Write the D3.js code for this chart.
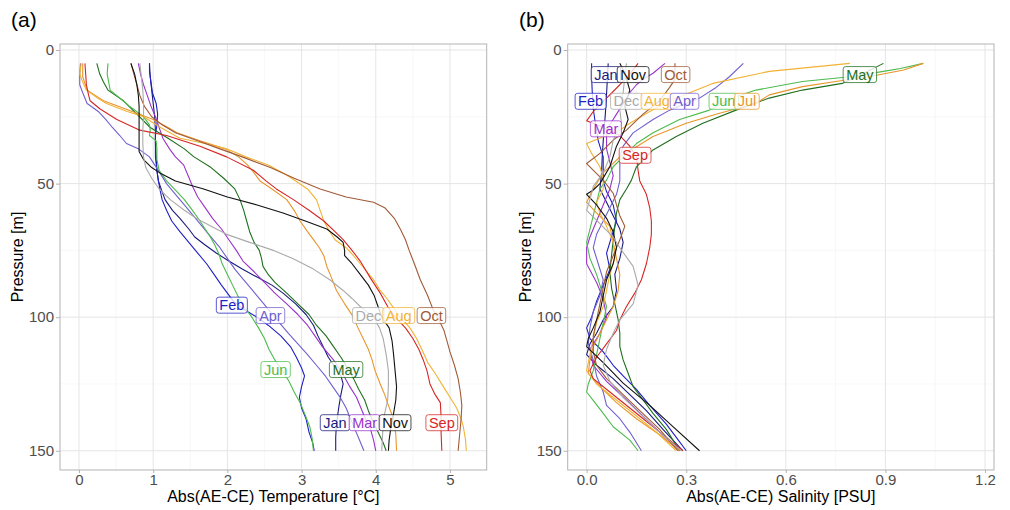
<!DOCTYPE html>
<html><head><meta charset="utf-8">
<script src="https://cdn.jsdelivr.net/npm/d3@7"></script>
<style>body{margin:0;background:#fff}svg{display:block}</style>
</head><body>
<svg id="c" width="1010" height="510"></svg>
<script>
// ---------- DATA ----------
const months = ["Jan","Feb","Mar","Apr","May","Jun","Jul","Aug","Sep","Oct","Nov","Dec"];
const monthColors = ["#1a1a7e","#1f1fc4","#9933cc","#7060d0","#1f6f1f","#4cbb4c","#e8952a","#f2b233","#d62626","#a05a36","#111111","#aaaaaa"];

const xTicksA = [0,1,2,3,4,5];
const xTicksB = [0,0.3,0.6,0.9,1.2];
const yTicks = [0,50,100,150];

// Temperature profiles: [pressure, |AE-CE| temperature]
const tJan = [[5,0.95],[10,0.96],[15,0.98],[20,1.0],[25,1.02],[30,1.03],[35,1.03],[40,1.04],[45,1.05],[49,1.07],[53,1.12],[56,1.16],[60,1.26],[63,1.36],[67,1.48],[70,1.56],[73,1.7],[76,1.85],[79,2.02],[82,2.2],[85,2.4],[88,2.6],[91,2.75],[95,2.92],[99,3.06],[103,3.16],[107,3.22],[111,3.29],[115,3.36],[119,3.46],[122,3.53],[125,3.56],[129,3.53],[134,3.5],[140,3.47],[145,3.46],[150,3.46]];
const tFeb = [[5,0.95],[8,0.95],[12,0.97],[16,0.99],[20,1.04],[24,1.06],[28,1.05],[32,1.03],[36,1.03],[40,1.03],[45,1.05],[49,1.07],[52,1.09],[56,1.12],[60,1.18],[64,1.25],[68,1.36],[72,1.48],[76,1.6],[80,1.72],[84,1.82],[88,1.92],[91,2.0],[94,2.08],[97,2.22],[100,2.4],[103,2.55],[107,2.72],[111,2.85],[115,2.93],[119,3.0],[122,3.04],[126,3.0],[130,2.97],[134,3.0],[138,3.06],[143,3.1],[147,3.15],[150,3.17]];
const tMar = [[5,0.8],[9,0.83],[13,0.87],[17,0.92],[21,0.97],[25,1.03],[29,1.08],[33,1.13],[37,1.22],[40,1.3],[43,1.41],[47,1.47],[51,1.53],[55,1.6],[59,1.7],[63,1.8],[67,1.92],[71,2.02],[75,2.12],[79,2.21],[83,2.36],[87,2.5],[91,2.64],[95,2.8],[99,2.95],[103,3.08],[107,3.18],[111,3.28],[116,3.43],[121,3.55],[126,3.65],[130,3.74],[134,3.8],[138,3.86],[142,3.93],[146,3.97],[150,4.0]];
const tApr = [[5,0.02],[9,0.01],[13,0.01],[16,0.05],[20,0.11],[23,0.26],[26,0.36],[29,0.45],[32,0.55],[35,0.64],[37,0.8],[40,0.95],[43,1.02],[46,1.09],[50,1.18],[54,1.3],[58,1.42],[62,1.54],[66,1.66],[70,1.78],[74,1.9],[78,2.0],[82,2.1],[86,2.22],[90,2.34],[94,2.46],[98,2.58],[102,2.7],[106,2.82],[110,2.95],[114,3.08],[118,3.2],[122,3.32],[126,3.42],[130,3.52],[134,3.6],[138,3.66],[142,3.72],[146,3.78],[150,3.84]];
const tMay = [[5,0.24],[9,0.28],[12,0.33],[15,0.39],[19,0.6],[24,0.78],[29,0.96],[33,1.2],[37,1.42],[40,1.55],[44,1.78],[48,1.95],[52,2.1],[56,2.17],[60,2.22],[64,2.26],[68,2.3],[72,2.36],[75,2.43],[78,2.46],[81,2.48],[84,2.55],[87,2.64],[91,2.8],[95,2.95],[99,3.1],[103,3.2],[107,3.33],[111,3.43],[115,3.53],[119,3.62],[123,3.7],[127,3.77],[131,3.85],[135,3.9],[139,3.96],[143,4.03],[147,4.1],[150,4.14]];
const tJun = [[5,0.39],[9,0.38],[12,0.4],[15,0.42],[18,0.55],[21,0.68],[25,0.87],[28,0.95],[30,0.96],[32,0.95],[34,1.04],[37,1.05],[41,1.05],[45,1.08],[49,1.18],[53,1.32],[56,1.42],[60,1.53],[64,1.63],[67,1.7],[70,1.77],[73,1.83],[76,1.88],[80,1.93],[84,2.0],[88,2.07],[92,2.14],[96,2.22],[100,2.33],[104,2.42],[108,2.5],[112,2.56],[116,2.64],[120,2.74],[124,2.83],[128,2.9],[132,2.98],[136,3.04],[141,3.11],[145,3.14],[150,3.16]];
const tJul = [[5,0.05],[10,0.05],[15,0.11],[19,0.33],[22,0.62],[26,1.0],[29,1.2],[31,1.32],[34,1.63],[37,1.97],[40,2.15],[43,2.27],[46,2.36],[49,2.44],[52,2.6],[56,2.8],[60,2.9],[64,2.98],[68,3.08],[71,3.16],[74,3.24],[77,3.3],[81,3.34],[85,3.4],[90,3.47],[95,3.58],[100,3.7],[104,3.76],[108,3.83],[112,3.9],[116,3.95],[120,3.99],[125,4.06],[129,4.12],[133,4.17],[138,4.24],[144,4.27],[150,4.28]];
const tAug = [[5,0.03],[9,0.01],[12,0.05],[15,0.1],[18,0.25],[20,0.37],[23,0.65],[25,0.87],[29,1.1],[33,1.36],[35,1.7],[37,1.99],[40,2.25],[43,2.55],[46,2.75],[49,2.92],[52,3.08],[56,3.2],[60,3.25],[64,3.3],[68,3.38],[71,3.45],[74,3.6],[77,3.7],[80,3.79],[83,3.88],[86,3.97],[90,4.06],[93,4.15],[97,4.25],[100,4.33],[104,4.46],[108,4.55],[112,4.62],[117,4.7],[121,4.8],[126,4.91],[130,5.0],[134,5.09],[138,5.15],[141,5.18],[146,5.21],[150,5.22]];
const tSep = [[5,0.08],[9,0.09],[13,0.1],[17,0.13],[19,0.15],[22,0.28],[26,0.51],[30,0.82],[32,1.18],[34,1.4],[36,1.63],[40,1.99],[45,2.35],[49,2.52],[52,2.66],[56,2.89],[60,3.1],[64,3.3],[68,3.45],[71,3.56],[75,3.68],[79,3.79],[85,3.92],[91,4.06],[96,4.16],[100,4.26],[104,4.4],[108,4.5],[112,4.58],[116,4.64],[120,4.69],[125,4.73],[129,4.8],[132,4.87],[137,4.88],[143,4.88],[150,4.89]];
const tOct = [[5,0.7],[9,0.74],[13,0.78],[17,0.82],[21,0.88],[25,0.98],[28,1.12],[31,1.3],[34,1.6],[37,1.9],[40,2.2],[44,2.58],[48,2.9],[52,3.25],[55,3.6],[57,3.97],[59,4.12],[63,4.25],[67,4.33],[71,4.4],[75,4.45],[80,4.52],[86,4.6],[92,4.7],[97,4.77],[101,4.85],[105,4.92],[109,4.96],[113,5.0],[118,5.06],[123,5.11],[128,5.14],[133,5.16],[138,5.15],[144,5.13],[150,5.11]];
const tNov = [[5,0.7],[9,0.75],[13,0.78],[17,0.8],[21,0.81],[27,0.81],[33,0.81],[38,0.81],[41,0.87],[44,0.98],[46,1.09],[49,1.3],[52,1.68],[55,2.0],[58,2.4],[61,2.75],[64,3.05],[67,3.34],[70,3.48],[72,3.56],[75,3.58],[77,3.58],[80,3.68],[84,3.79],[88,3.9],[92,3.98],[96,4.03],[100,4.08],[104,4.18],[109,4.22],[114,4.24],[120,4.26],[126,4.28],[131,4.27],[136,4.24],[142,4.2],[146,4.18],[150,4.17]];
const tDec = [[5,0.82],[10,0.84],[15,0.86],[20,0.87],[25,0.87],[30,0.86],[35,0.86],[40,0.87],[44,0.9],[48,0.98],[52,1.08],[56,1.23],[60,1.42],[63,1.58],[66,1.78],[69,1.99],[72,2.3],[75,2.62],[78,2.88],[82,3.16],[86,3.38],[90,3.56],[93,3.68],[96,3.79],[100,3.97],[104,4.05],[108,4.1],[114,4.14],[120,4.17],[126,4.17],[131,4.16],[136,4.12],[140,4.1],[145,4.09],[150,4.08]];

// Salinity profiles: [pressure, |AE-CE| salinity]
const sJan = [[5,0.065],[12,0.062],[21,0.058],[28,0.054],[34,0.05],[40,0.047],[46,0.045],[52,0.04],[57,0.06],[62,0.08],[67,0.1],[72,0.11],[78,0.1],[84,0.085],[90,0.09],[96,0.08],[101,0.05],[106,0.03],[110,0.01],[114,0.0],[118,0.03],[123,0.08],[129,0.13],[135,0.18],[142,0.23],[150,0.29]];
const sFeb = [[5,0.015],[10,0.015],[16,0.017],[22,0.02],[28,0.027],[34,0.035],[40,0.05],[45,0.05],[49,0.05],[53,0.06],[58,0.08],[64,0.09],[70,0.075],[76,0.06],[82,0.07],[88,0.05],[94,0.03],[100,0.015],[104,0.0],[108,0.01],[113,0.05],[118,0.08],[122,0.11],[127,0.15],[133,0.19],[140,0.24],[145,0.27],[150,0.3]];
const sMar = [[5,0.236],[8.7,0.2],[11,0.17],[13,0.15],[16,0.13],[20,0.11],[24,0.09],[28,0.07],[32,0.06],[37,0.06],[42,0.07],[47,0.08],[52,0.07],[58,0.05],[64,0.03],[70,0.01],[74,0.0],[80,0.0],[87,0.03],[93,0.05],[100,0.06],[106,0.04],[112,0.01],[118,0.02],[124,0.06],[131,0.12],[137,0.17],[143,0.22],[150,0.28]];
const sApr = [[5,0.472],[10,0.43],[14,0.39],[18,0.34],[22.5,0.25],[26,0.2],[31,0.14],[36,0.11],[40,0.1],[45,0.1],[49,0.1],[54,0.09],[59,0.07],[64,0.05],[69,0.03],[74,0.02],[80,0.035],[86,0.05],[92,0.04],[98,0.02],[104,0.01],[110,0.005],[116,0.02],[122,0.03],[128,0.05],[133,0.06],[138,0.1],[143,0.13],[150,0.165]];
const sMay = [[5,0.894],[6.5,0.87],[9,0.83],[12.5,0.77],[15,0.65],[18,0.55],[22.5,0.45],[27.4,0.35],[32.4,0.27],[37.4,0.2],[43.7,0.15],[48.7,0.135],[52,0.12],[56,0.1],[61,0.09],[66,0.085],[71,0.08],[77,0.075],[83,0.07],[89,0.075],[95,0.085],[101,0.095],[106,0.1],[111,0.1],[116,0.11],[121,0.125],[126,0.14],[131,0.17],[136,0.2],[142,0.24],[150,0.28]];
const sJun = [[5,1.014],[6.9,0.945],[8,0.894],[10,0.793],[11.8,0.65],[15,0.51],[17.5,0.45],[22.5,0.37],[26,0.28],[31,0.2],[35,0.15],[40,0.11],[43.7,0.08],[48.7,0.06],[52,0.04],[57,0.03],[62,0.02],[67,0.01],[72,0.0],[78,0.01],[84,0.03],[90,0.045],[96,0.06],[102,0.05],[108,0.04],[114,0.03],[120,0.02],[125,0.005],[128,0.0],[132,0.025],[136,0.05],[141,0.08],[146,0.13],[150,0.155]];
const sJul = [[5,1.014],[7.5,0.955],[10,0.85],[11.8,0.75],[13.7,0.65],[16.8,0.55],[20,0.51],[23.7,0.4],[27.4,0.3],[32.4,0.2],[36.2,0.15],[40,0.1],[46,0.05],[52,0.02],[57,0.0],[61,0.03],[66,0.07],[72,0.08],[78,0.09],[84,0.1],[90,0.095],[96,0.08],[101,0.06],[106,0.04],[111,0.02],[116,0.01],[121,0.005],[126,0.04],[132,0.09],[138,0.15],[144,0.22],[150,0.28]];
const sAug = [[5,0.793],[8,0.55],[12.5,0.38],[19,0.25],[23,0.19],[27.4,0.13],[30,0.1],[35,0.0],[38.7,0.015],[43.7,0.04],[48,0.05],[52,0.05],[57,0.03],[61,0.04],[66,0.06],[72,0.08],[78,0.085],[84,0.07],[90,0.06],[96,0.05],[102,0.03],[108,0.02],[114,0.01],[120,0.0],[125,0.03],[131,0.09],[137,0.15],[143,0.21],[150,0.27]];
const sSep = [[5,0.155],[9,0.13],[13,0.1],[18,0.06],[23,0.02],[26.5,0.0],[29,0.05],[32,0.1],[36,0.13],[40,0.15],[45,0.155],[49,0.16],[54,0.18],[59,0.19],[64,0.195],[69,0.195],[74,0.19],[80,0.18],[86,0.165],[91,0.145],[96,0.12],[101,0.1],[105,0.09],[110,0.06],[115,0.03],[120,0.01],[123,0.02],[128,0.07],[134,0.13],[140,0.19],[145,0.24],[150,0.29]];
const sOct = [[5,0.266],[9,0.266],[11,0.266],[14,0.25],[19,0.22],[24,0.17],[30,0.12],[33.7,0.08],[38.7,0.04],[42.5,0.0],[48.7,0.05],[53.6,0.08],[58,0.09],[62,0.1],[66,0.115],[71,0.1],[77,0.08],[83,0.06],[89,0.05],[95,0.04],[101,0.03],[107,0.02],[113,0.02],[118,0.03],[123,0.06],[129,0.11],[135,0.16],[142,0.22],[150,0.275]];
const sNov = [[5,0.1],[8.7,0.115],[15,0.13],[21,0.115],[26,0.125],[31,0.11],[36,0.09],[43.7,0.07],[50,0.04],[52.4,0.02],[54,0.0],[58,0.03],[63,0.06],[68,0.08],[74,0.09],[80,0.08],[86,0.06],[92,0.05],[98,0.04],[104,0.02],[108,0.005],[111,0.0],[117,0.05],[124.7,0.11],[133,0.19],[141,0.26],[150,0.34]];
const sDec = [[5,0.12],[10,0.115],[16,0.11],[22.5,0.1],[27.4,0.105],[33.7,0.08],[40,0.07],[46,0.05],[51,0.02],[56,0.01],[60,0.0],[65,0.04],[70,0.08],[74,0.1],[81,0.14],[88,0.155],[95,0.14],[101,0.1],[106,0.08],[112,0.06],[118,0.05],[124,0.07],[130,0.11],[136,0.16],[142,0.21],[150,0.285]];

const tempProfiles = [tJan,tFeb,tMar,tApr,tMay,tJun,tJul,tAug,tSep,tOct,tNov,tDec];
const salProfiles  = [sJan,sFeb,sMar,sApr,sMay,sJun,sJul,sAug,sSep,sOct,sNov,sDec];

// Month labels: [month, value, pressure]
const labelsA = [["Feb",2.06,95.5],["Apr",2.58,99.4],["Dec",3.9,99.4],["Aug",4.31,99.4],["Oct",4.75,99.4],["Jun",2.65,119.6],["May",3.6,119.6],["Jan",3.45,139.5],["Mar",3.85,139.5],["Nov",4.26,139.5],["Sep",4.89,139.5]];
const labelsB = [["Jan",0.058,9.2],["Nov",0.14,9.2],["Oct",0.268,9.2],["May",0.823,9.2],["Feb",0.012,19.2],["Dec",0.12,19.2],["Aug",0.212,19.2],["Apr",0.295,19.2],["Jun",0.413,19.2],["Jul",0.483,19.2],["Mar",0.058,29.5],["Sep",0.146,39.4]];

// ---------- DRAW ----------
const svg = d3.select("#c");
const FONT = "'Liberation Sans', Arial, Helvetica, sans-serif";
const colorOf = d3.scaleOrdinal().domain(months).range(monthColors);

const yScale = d3.scaleLinear().domain([-2.25,157.2]).range([44,470]);

function panel(opt){
  const x = opt.x, y = yScale;
  const [x0,x1] = x.range(), [y0,y1] = y.range();
  const g = svg.append("g");
  const cid = "clip"+opt.id;
  svg.append("clipPath").attr("id",cid).append("rect")
    .attr("x",x0).attr("y",y0).attr("width",x1-x0).attr("height",y1-y0);
  g.append("rect").attr("x",x0).attr("y",y0).attr("width",x1-x0).attr("height",y1-y0).attr("fill","#fff");
  const gg = g.append("g").attr("clip-path",`url(#${cid})`);
  gg.selectAll(".mx").data(opt.minorX).join("line")
    .attr("x1",d=>x(d)).attr("x2",d=>x(d)).attr("y1",y0).attr("y2",y1)
    .attr("stroke","#f2f2f2").attr("stroke-width",0.6);
  gg.selectAll(".my").data([25,75,125]).join("line")
    .attr("y1",d=>y(d)).attr("y2",d=>y(d)).attr("x1",x0).attr("x2",x1)
    .attr("stroke","#f2f2f2").attr("stroke-width",0.6);
  gg.selectAll(".Mx").data(opt.ticks).join("line")
    .attr("x1",d=>x(d)).attr("x2",d=>x(d)).attr("y1",y0).attr("y2",y1)
    .attr("stroke","#e5e5e5").attr("stroke-width",1);
  gg.selectAll(".My").data(yTicks).join("line")
    .attr("y1",d=>y(d)).attr("y2",d=>y(d)).attr("x1",x0).attr("x2",x1)
    .attr("stroke","#e5e5e5").attr("stroke-width",1);
  const line = d3.line().x(d=>x(d[1])).y(d=>y(d[0]));
  const lg = g.append("g").attr("clip-path",`url(#${cid})`);
  opt.profiles.forEach((p,i)=>{
    lg.append("path").attr("d",line(p)).attr("fill","none")
      .attr("stroke",monthColors[i]).attr("stroke-width",1.1).attr("stroke-linejoin","round");
  });
  const lab = g.append("g");
  opt.labels.forEach(([m,v,p])=>{
    const c = colorOf(m);
    const cx = x(v), cy = y(p);
    const lg2 = lab.append("g");
    const r = lg2.append("rect");
    const t = lg2.append("text").text(m).attr("x",cx).attr("y",cy+5)
      .attr("text-anchor","middle").attr("font-family",FONT).attr("font-size",14.5)
      .attr("fill",c);
    const w = t.node().getComputedTextLength()+6;
    r.attr("x",cx-w/2).attr("y",cy-8).attr("width",w).attr("height",16).attr("rx",2.5)
      .attr("fill","#fff").attr("fill-opacity",0.8).attr("stroke",c).attr("stroke-opacity",0.75).attr("stroke-width",1);
  });
  g.append("rect").attr("x",x0).attr("y",y0).attr("width",x1-x0).attr("height",y1-y0)
    .attr("fill","none").attr("stroke","#b3b3b3").attr("stroke-width",1);
  const ax = g.append("g").attr("transform",`translate(0,${y1})`)
    .call(d3.axisBottom(x).tickValues(opt.ticks).tickFormat(opt.fmt).tickSize(3).tickPadding(1));
  const ay = g.append("g").attr("transform",`translate(${x0},0)`)
    .call(d3.axisLeft(y).tickValues(yTicks).tickSize(4).tickPadding(2));
  [ax,ay].forEach(a=>{
    a.select(".domain").remove();
    a.selectAll("line").attr("stroke","#b3b3b3");
    a.selectAll("text").attr("font-family",FONT).attr("font-size",15).attr("fill","#4d4d4d");
  });
  g.append("text").attr("x",(x0+x1)/2).attr("y",502).attr("text-anchor","middle")
    .attr("font-family",FONT).attr("font-size",16).attr("fill","#000").text(opt.xtitle);
  g.append("text").attr("transform",`translate(${x0-37},${(y0+y1)/2}) rotate(-90)`)
    .attr("text-anchor","middle").attr("font-family",FONT).attr("font-size",16).attr("fill","#000").text("Pressure [m]");
  svg.append("text").attr("x",opt.tagX).attr("y",27).attr("font-family",FONT).attr("font-size",21).attr("fill","#000").text(opt.tag);
}

panel({id:"a", x:d3.scaleLinear().domain([-0.256,5.495]).range([60,486.7]),
  ticks:xTicksA, minorX:[0.5,1.5,2.5,3.5,4.5], fmt:d3.format("d"),
  profiles:tempProfiles, labels:labelsA, xtitle:"Abs(AE-CE) Temperature [°C]", tag:"(a)", tagX:11});
panel({id:"b", x:d3.scaleLinear().domain([-0.057,1.227]).range([567.7,994]),
  ticks:xTicksB, minorX:[0.15,0.45,0.75,1.05], fmt:d3.format(".1f"),
  profiles:salProfiles, labels:labelsB, xtitle:"Abs(AE-CE) Salinity [PSU]", tag:"(b)", tagX:519});
</script>
</body></html>
